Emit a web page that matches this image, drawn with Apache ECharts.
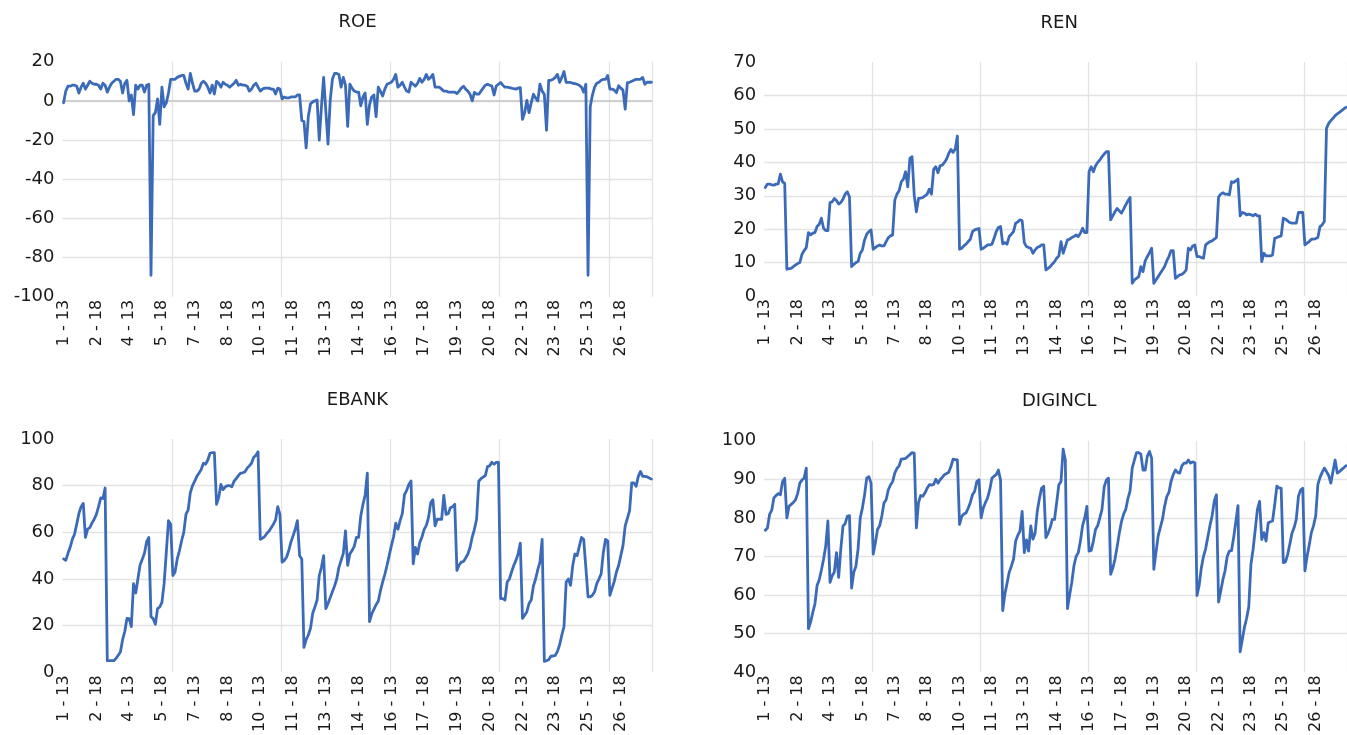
<!DOCTYPE html>
<html>
<head>
<meta charset="utf-8">
<title>ROE, REN, EBANK, DIGINCL</title>
<script src="https://cdn.jsdelivr.net/npm/echarts@6/dist/echarts.min.js"></script>
<style>
  html, body { margin: 0; padding: 0; background: #ffffff; }
  #chart { width: 1347px; height: 735px; }
</style>
</head>
<body>
<div id="chart"></div>
<script>
// Panel data: 27 banks x 10 years (2013-2022), one row per bank.
const BANK_IDS = [1, 2, 3, 4, 5, 6, 7, 8, 9, 10, 11, 12, 13, 14, 15, 16, 17, 18, 19, 20, 21, 22, 23, 24, 25, 26, 27];
const YEAR_CODES = ['13', '14', '15', '16', '17', '18', '19', '20', '21', '22'];

const ROE = [
  -1, 5, 7.5, 7.5, 8, 8, 7.5, 4, 7, 9,
  6, 8, 10, 9, 8.5, 8.5, 8, 6, 9, 8,
  4.5, 7, 9, 10, 11, 11, 10, 4, 9, 10.5,
  0, 3, -7, 8, 6, 8, 8, 4.5, 8, 8.5,
  -89, -7.5, -6, 1, -12, 7, -3, -1, 4, 11,
  11, 11, 12, 12.5, 13, 13, 9, 6, 14, 9,
  5, 5, 6, 9, 10, 9, 7, 4, 8, 3.5,
  10, 9, 7, 9.5, 8.5, 8, 7, 8, 9, 10.5,
  8, 8.5, 8, 8, 7.5, 5, 6, 8, 9, 7,
  5, 6, 6.5, 6.5, 6.5, 6, 6, 3.5, 6.5, 6,
  1, 2, 1.5, 1.5, 2, 2, 2, 3, 3, -10,
  -10.5, -24, -8, -1.5, -0.5, 0, 0.5, -20, -3, 12,
  -5, -22, 0, 11, 14, 14, 13.5, 7, 12, 8,
  -13, 8.5, 6.5, 5, 4.5, 4.5, -2.5, 2, 4, -12,
  -2, 2, 3, -8, 7, 5, 2.5, 6, 8.5, 9,
  9.5, 11, 13.5, 7, 8, 9.5, 7, 5, 4.5, 9.5,
  8.5, 7.5, 9, 11.5, 9.5, 11, 13.5, 11, 12, 13.5,
  7, 7, 7, 6, 5, 5, 4.5, 4.5, 4.5, 4.5,
  3.7, 5, 6.5, 7.5, 6, 5, 3.4, 0, 4.3, 3.5,
  3.4, 5, 6.5, 8, 8.5, 8, 7.6, 3, 7.6, 8.5,
  9.4, 8, 7, 7, 6.8, 6.5, 6.2, 6, 6.5, 6.8,
  -9.4, -6, 0.3, -6, -1, 3.4, 1.5, 0, 8.5, 5,
  3.4, -15, 10.5, 10.5, 11, 12, 13.5, 9.4, 12, 15,
  9.4, 9.4, 9.4, 9, 8.8, 8.5, 8, 7, 4.5, 8.5,
  -89, -3, 3, 7, 9, 9.5, 10.5, 11, 11, 13,
  6, 6, 5.5, 4.2, 7.7, 6.5, 5.5, -4.2, 9.3, 9.5,
  10, 10.5, 11, 11, 11, 12, 8.5, 9.5, 9.5, 9.5
];

const REN = [
  32.5, 33.5, 33.5, 33.3, 33.2, 33.5, 33.6, 36.5, 34.2, 33.7,
  8, 8.2, 8.3, 8.8, 9.3, 9.7, 10, 12.5, 13.6, 14.5,
  19, 18.3, 18.8, 19, 20.8, 21.5, 23.3, 20.3, 19.6, 19.6,
  28, 28.2, 29.2, 28.6, 27.5, 28, 29, 30.5, 31.2, 29.7,
  8.8, 9.5, 10, 10.3, 12.8, 13.8, 16.8, 18.5, 19.3, 19.8,
  14, 14.5, 15, 15.3, 15, 15, 16.3, 17.5, 18, 18.3,
  28.7, 30.5, 31.5, 34.2, 35, 37.2, 32.7, 41.2, 41.7, 30.2,
  25.2, 29.2, 29.3, 29.5, 30, 30.5, 32, 30.5, 37.9, 38.7,
  36.9, 39, 39.2, 40, 41, 42.7, 43.9, 43, 44, 47.9,
  14, 14.3, 15, 15.5, 16.3, 17, 19.3, 19.8, 20, 20.2,
  14, 14.3, 14.8, 15.3, 15.3, 15.5, 17.3, 19.3, 20.5, 20.8,
  15.6, 16, 15.5, 17.8, 18.5, 19.3, 21.8, 22.2, 22.8, 22.5,
  16, 14.8, 14.5, 14.3, 12.8, 13.8, 14.5, 14.8, 15.3, 15.3,
  7.8, 8.3, 8.8, 9.6, 10.3, 11.3, 12, 16.3, 12.8, 14.8,
  16.8, 17, 17.5, 17.8, 18.3, 17.8, 18.8, 20.3, 19, 19,
  37.2, 38.7, 37.2, 39, 40, 40.7, 41.7, 42.5, 43.2, 43.2,
  22.8, 24, 25.2, 26.2, 25.5, 24.8, 26, 27.3, 28.5, 29.5,
  3.8, 4.8, 5.3, 5.8, 8.8, 7.3, 10.5, 11.8, 13, 14.3,
  3.8, 4.8, 5.8, 6.8, 7.8, 8.8, 10.5, 11.8, 13.6, 13.6,
  5.3, 5.8, 6.3, 6.5, 7, 7.8, 14.3, 13.8, 15, 15.3,
  11.8, 11.8, 11.5, 11.3, 15.3, 15.8, 16.3, 16.5, 17, 17.5,
  29.7, 30.5, 30.9, 30.5, 30.5, 30.3, 34.2, 34, 34.5, 35,
  24, 25, 24.8, 24.3, 24.5, 24.3, 24, 24.5, 24, 24,
  10.3, 12.8, 12, 12, 12, 12.3, 17.3, 17.5, 17.8, 18,
  23.3, 23, 22.5, 22, 21.8, 21.8, 21.8, 25, 25, 25,
  15.3, 15.8, 16.3, 17, 17, 17.2, 17.5, 20.8, 21.3, 22.3,
  50.2, 51.7, 52.5, 53.2, 54, 54.5, 55, 55.5, 56, 56.5
];

const EBANK = [
  48.6, 48, 51, 53.6, 57, 59.2, 63.5, 68, 71, 72.4,
  57.8, 61.4, 62, 64, 65.6, 67.7, 71, 74.8, 74.5, 79,
  5, 5, 5, 5, 6, 7.3, 8.7, 14, 17.5, 23.1,
  23, 19.6, 38, 34, 40, 46, 48.5, 51, 56, 57.8,
  23.8, 23, 20.6, 27.3, 28, 30, 38, 51.4, 65, 63.5,
  41.5, 43, 48.6, 52, 56.4, 60, 67.7, 69.6, 77, 80,
  81.9, 84, 85.4, 87, 89.6, 89.2, 91, 93.9, 94.2, 94.2,
  72, 75, 80.5, 78.3, 79.5, 80, 80, 79.5, 81.9, 83,
  84.3, 85.4, 85.5, 86, 87.5, 88.5, 89.6, 92.2, 93, 94.5,
  57, 57.5, 58.2, 59.5, 60.5, 62, 63.5, 65.3, 71, 67.7,
  47.2, 48, 49.3, 52, 55.7, 58.5, 61.3, 65, 50, 48.6,
  10.7, 14, 16, 18.9, 25.3, 28, 30.9, 41.5, 45, 50,
  27.3, 29.5, 32, 34.5, 37, 40, 45, 48, 51, 60.6,
  45.8, 50.7, 52.2, 54, 57.8, 57.8, 67, 72, 76, 85.4,
  21.7, 25, 27, 29, 30.5, 35, 38.7, 42, 45.8, 50,
  54.3, 58, 63.9, 61.3, 65, 68, 76.2, 78, 80.5, 82,
  46.5, 53.5, 50.7, 55.7, 58, 61.3, 63, 66.3, 72.7, 74,
  62.8, 65.6, 65.6, 65.6, 75.8, 67.7, 68, 70.5, 71, 72,
  43.7, 46, 47.2, 47.5, 49, 50.7, 53.5, 58, 61.3, 65.6,
  81.9, 83, 83.7, 84.3, 88.2, 88.5, 90, 89.2, 90, 90,
  31.6, 31.6, 31, 38.7, 40, 43, 45.8, 48, 50.7, 55.4,
  23.1, 24.5, 26, 29.5, 31, 37, 40, 44, 47.2, 57,
  4.7, 5, 5.4, 6.9, 7, 7.3, 9, 11.8, 16, 19.6,
  38.7, 40, 37.3, 45.8, 50.7, 50, 54, 57.8, 57, 45,
  32.4, 32.4, 33, 34.5, 38, 40, 42.2, 51.4, 57, 56.3,
  33, 36, 39, 43, 45.8, 50, 54.3, 62.8, 66, 69.2,
  81.2, 81.2, 79.7, 84, 86.1, 84, 84, 83.8, 83.3, 82.8
];

const DIGINCL = [
  76.8, 77.4, 80.9, 82, 85.2, 85.8, 86.3, 86, 89.4, 90.3,
  80, 83, 83.5, 84, 84.7, 86.3, 89, 89.8, 90.3, 92.9,
  51.3, 53, 55.5, 57.7, 62.5, 64, 66.5, 69.3, 72.7, 79.2,
  63.3, 65, 66, 71, 64.6, 72, 77.9, 78.5, 80.4, 80.6,
  61.8, 65.9, 67.5, 72, 80, 82.6, 86, 90.3, 90.7, 89,
  70.6, 73.6, 77, 78, 80.5, 83.9, 84.7, 87.3, 88.5, 89.4,
  91.6, 92.8, 93.5, 95.2, 95.3, 95.4, 95.9, 96.4, 96.9, 96.8,
  77.4, 84, 85.8, 85.6, 86.5, 87.7, 88.6, 88.5, 88.7, 90,
  89, 89.9, 90.5, 91.2, 91.5, 91.8, 93.3, 95.2, 95.1, 95,
  78.3, 80.4, 81, 81.3, 82.5, 84, 86, 86.9, 89.4, 89.9,
  80, 82.6, 84, 85.2, 87.3, 90.3, 90.8, 91.2, 92.4, 89.8,
  56, 60.3, 63, 65.9, 67.5, 69.3, 74, 75.5, 76.6, 81.7,
  71, 74.3, 71.4, 77.9, 74.5, 76, 81.7, 85, 87.7, 88.2,
  74.9, 76, 77.5, 79.6, 79.6, 84, 88.6, 89.4, 97.8, 95,
  56.5, 60, 63.3, 67.6, 70, 71, 74, 78, 80, 83,
  71.4, 71.6, 74, 77, 78, 80, 82.2, 88, 89.8, 90.3,
  65.4, 67, 69.3, 72.5, 76, 79, 81, 82.2, 85, 87,
  92.9, 95, 96.9, 96.9, 96.5, 92.4, 92.4, 96, 97.2, 95.4,
  66.7, 71, 75.3, 77.5, 79.6, 83, 85.5, 86.6, 89.5, 91.2,
  92.4, 91.8, 91.6, 93.5, 94.2, 94.2, 95, 94.2, 94.5, 94.3,
  59.9, 62.5, 67, 70, 72, 75, 78, 80.5, 84.3, 86,
  58.2, 61, 64, 66.3, 70, 71.4, 71.5, 75, 79, 83.2,
  45.3, 48.5, 51.7, 54, 57, 68, 71.9, 77, 82.2, 84.3,
  74.4, 76.2, 74, 78.7, 79, 79.2, 83.4, 88.2, 87.8, 87.7,
  68.4, 68.6, 70.5, 73.2, 76, 77.5, 79.6, 85.6, 87.2, 87.7,
  66.3, 70, 73, 76.2, 78, 80.5, 88.6, 90.5, 91.8, 92.9,
  92, 91, 89, 92, 95, 91.6, 92, 92.5, 93, 93.5
];

// Y-axis ranges for each panel
const Y_RANGES = {
  ROE:     { min: -100, max: 20,  interval: 20 },
  REN:     { min: 0,    max: 70,  interval: 10 },
  EBANK:   { min: 0,    max: 100, interval: 20 },
  DIGINCL: { min: 40,   max: 100, interval: 10 }
};

// Category labels "bank - year"
const CATEGORIES = [];
BANK_IDS.forEach(b => YEAR_CODES.forEach(y => CATEGORIES.push(b + ' - ' + y)));

// Layout of the four panels (pixels)
const LAYOUT = [
  { key: 'ROE',     data: ROE,     left: 62.5,  top: 61.7,  width: 590, height: 235.1, zeroLine: true },
  { key: 'REN',     data: REN,     left: 764.2, top: 62.2,  width: 593, height: 233.8 },
  { key: 'EBANK',   data: EBANK,   left: 62.5,  top: 439.0, width: 590, height: 235.5 },
  { key: 'DIGINCL', data: DIGINCL, left: 764.2, top: 440.7, width: 593, height: 233.3 }
];

const LINE_COLOR = '#3b6bb8';
const GRID_COLOR = '#e3e3e3';
const TEXT_COLOR = '#1a1a1a';
const FONT = 'DejaVu Sans';

const grids = [], xAxes = [], yAxes = [], series = [], titles = [];

LAYOUT.forEach((p, i) => {
  grids.push({ left: p.left, top: p.top, width: p.width, height: p.height, containLabel: false });

  xAxes.push({
    type: 'category',
    gridIndex: i,
    data: CATEGORIES,
    boundaryGap: true,
    axisLine: { show: false },
    axisTick: { show: false },
    axisLabel: {
      interval: 14,
      rotate: 90,
      margin: 3,
      fontFamily: FONT,
      fontSize: 16,
      color: TEXT_COLOR,
      padding: [0, 0, 8, 0]
    },
    splitLine: {
      show: true,
      interval: (idx) => idx > 0 && idx % 50 === 0,
      lineStyle: { color: GRID_COLOR, width: 1.3 }
    }
  });

  const r = Y_RANGES[p.key];
  yAxes.push({
    type: 'value',
    gridIndex: i,
    min: r.min,
    max: r.max,
    interval: r.interval,
    axisLine: { show: false },
    axisTick: { show: false },
    axisLabel: { margin: 8, fontFamily: FONT, fontSize: 18, color: TEXT_COLOR },
    splitLine: {
      show: true,
      showMinLine: false,
      showMaxLine: false,
      lineStyle: { color: GRID_COLOR, width: 1.3 }
    }
  });

  const s = {
    type: 'line',
    name: p.key,
    xAxisIndex: i,
    yAxisIndex: i,
    data: p.data,
    showSymbol: false,
    symbol: 'none',
    silent: true,
    z: 3,
    lineStyle: { color: LINE_COLOR, width: 2.8, join: 'round', cap: 'round' },
    itemStyle: { color: LINE_COLOR }
  };
  if (p.zeroLine) {
    s.markLine = {
      silent: true,
      z: 1,
      symbol: ['none', 'none'],
      label: { show: false },
      lineStyle: { color: '#cfcfcf', width: 1.8, type: 'solid' },
      emphasis: { disabled: true },
      data: [{ yAxis: 0 }]
    };
  }
  series.push(s);

  titles.push({
    type: 'text',
    x: p.left + 590 / 2,
    y: p.top - 39,
    style: {
      text: p.key,
      fill: TEXT_COLOR,
      font: '18px "' + FONT + '"',
      align: 'center',
      verticalAlign: 'middle'
    },
    silent: true
  });
});

const chart = echarts.init(document.getElementById('chart'), null, { renderer: 'canvas' });
chart.setOption({
  animation: false,
  backgroundColor: '#ffffff',
  grid: grids,
  xAxis: xAxes,
  yAxis: yAxes,
  series: series,
  graphic: titles
});
</script>
</body>
</html>
